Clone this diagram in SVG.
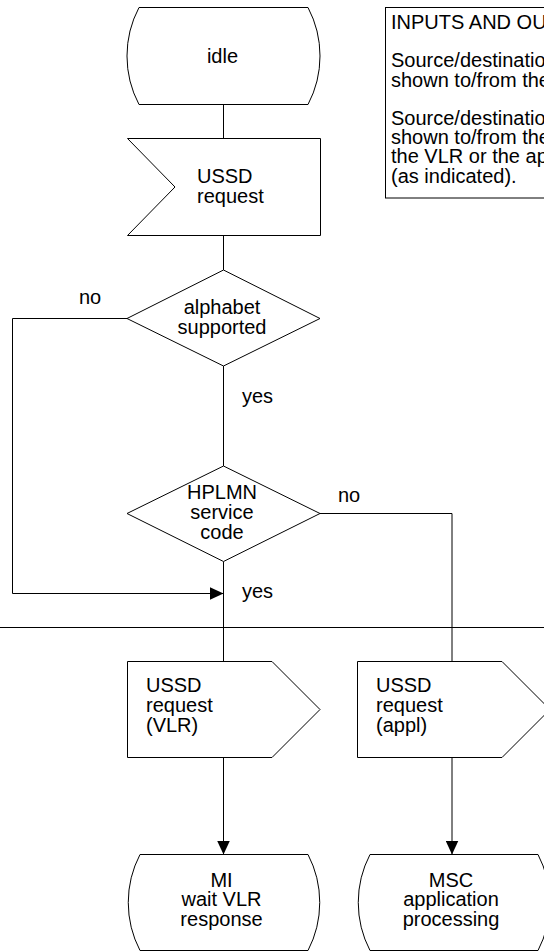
<svg xmlns="http://www.w3.org/2000/svg" width="544" height="951" viewBox="0 0 544 951">
<defs>
<style>
.s{fill:#fff;stroke:#000;stroke-width:1}
.c{fill:none;stroke:#000;stroke-width:1}
text{font-family:"Liberation Sans",Arial,sans-serif;font-size:20px;fill:#000}
.m{text-anchor:middle}
</style>
<marker id="ah" markerUnits="userSpaceOnUse" markerWidth="14" markerHeight="13" refX="14" refY="6.5" orient="auto">
<path d="M0,0 L14,6.5 L0,13 Z" fill="#000"/>
</marker>
</defs>
<rect width="544" height="951" fill="#fff"/>
<g id="connectors">
<path class="c" d="M223.5,104.5 V138.5"/>
<path class="c" d="M223.5,235.5 V270"/>
<path class="c" d="M223.5,366 V466"/>
<path class="c" d="M127,318.5 H12.5 V593.5 H223.5" marker-end="url(#ah)"/>
<path class="c" d="M223.5,561.5 V661.5"/>
<path class="c" d="M320,513.5 H452 V661.5"/>
<path class="c" d="M223.5,757.5 V854.5" marker-end="url(#ah)"/>
<path class="c" d="M452,757.5 V854.5" marker-end="url(#ah)"/>
<path class="c" d="M0,627.5 H544"/>
<text x="79" y="304">no</text>
<text x="338" y="502">no</text>
<text x="242" y="403">yes</text>
<text x="242" y="598">yes</text>
</g>
<g id="textbox">
<rect class="s" x="385.5" y="7.5" width="170" height="190.5"/>
<text x="391" y="29">INPUTS AND OU</text>
<text x="391" y="67.4">Source/destinatio</text>
<text x="391" y="86.6">shown to/from the</text>
<text x="391" y="125">Source/destinatio</text>
<text x="391" y="144.2">shown to/from the</text>
<text x="391" y="163.4">the VLR or the ap</text>
<text x="391" y="182.6">(as indicated).</text>
</g>
<g id="idle">
<path class="s" d="M139,7.5 H308 A104,104 0 0 1 308,104.5 H139 A104,104 0 0 1 139,7.5 Z"/>
<text class="m" x="222.5" y="62.5">idle</text>
</g>
<g id="ussd_request_in">
<path class="s" d="M127.5,138.5 H320.5 V235.5 H127.5 L175,187 Z"/>
<text x="197" y="183">USSD</text>
<text x="197" y="203">request</text>
</g>
<g id="alphabet_supported">
<path class="s" d="M127,318.5 L223.5,270 L320,318.5 L223.5,366 Z"/>
<text class="m" x="222" y="314">alphabet</text>
<text class="m" x="222" y="334">supported</text>
</g>
<g id="hplmn_service_code">
<path class="s" d="M127,513.5 L223.5,466 L320,513.5 L223.5,561.5 Z"/>
<text class="m" x="222" y="499">HPLMN</text>
<text class="m" x="222" y="519">service</text>
<text class="m" x="222" y="539">code</text>
</g>
<g id="ussd_request_vlr">
<path class="s" d="M127.5,661.5 H272 L320,709.5 L272,757.5 H127.5 Z"/>
<text x="146" y="692">USSD</text>
<text x="146" y="712">request</text>
<text x="146" y="732">(VLR)</text>
</g>
<g id="ussd_request_appl">
<path class="s" d="M357.5,661.5 H502 L550,709.5 L502,757.5 H357.5 Z"/>
<text x="376" y="692">USSD</text>
<text x="376" y="712">request</text>
<text x="376" y="732">(appl)</text>
</g>
<g id="mi_wait_vlr_response">
<path class="s" d="M140,854.5 H308 A104,104 0 0 1 308,950.5 H140 A104,104 0 0 1 140,854.5 Z"/>
<text class="m" x="221.5" y="886.5">MI</text>
<text class="m" x="221.5" y="906">wait VLR</text>
<text class="m" x="221.5" y="926">response</text>
</g>
<g id="msc_application_processing">
<path class="s" d="M370,854.5 H538 A104,104 0 0 1 538,950.5 H370 A104,104 0 0 1 370,854.5 Z"/>
<text class="m" x="451" y="886.5">MSC</text>
<text class="m" x="451" y="906">application</text>
<text class="m" x="451" y="926">processing</text>
</g>
</svg>
